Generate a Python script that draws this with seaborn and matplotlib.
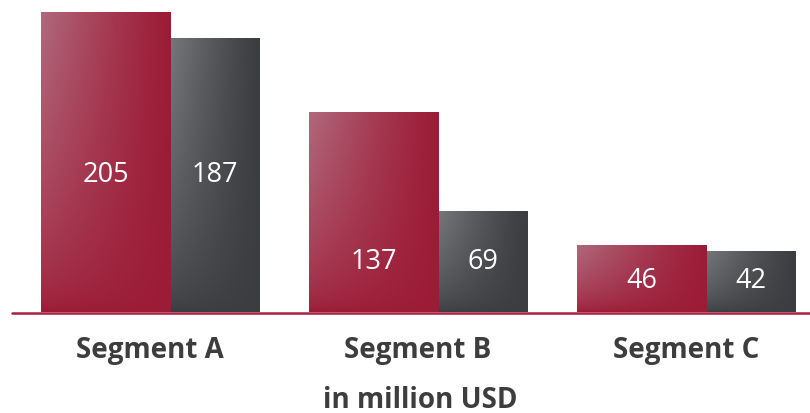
import numpy as np
import pandas as pd
import matplotlib
matplotlib.use("Agg")
import matplotlib.pyplot as plt
import seaborn as sns
from matplotlib.colors import to_rgb

# Data
segments = ["Segment A", "Segment B", "Segment C"]
current = [205, 137, 46]
previous = [187, 69, 42]
series_names = ["Current", "Previous"]
unit_label = "in million USD"

red = "#9c1c37"
red_light = "#b0687c"
grey = "#3c3d41"
grey_light = "#74767a"
text_grey = "#3d3d40"
line_red = "#a8213f"

df = pd.DataFrame({
    "segment": segments * 2,
    "value": current + previous,
    "series": [series_names[0]] * 3 + [series_names[1]] * 3,
})

sns.set_theme(style="white")
plt.rcParams["font.family"] = ["Open Sans", "DejaVu Sans"]

fig = plt.figure(figsize=(8.1, 4.13), dpi=100)
ax = fig.add_axes([12 / 810, 101 / 413, 798 / 810, 312 / 413])

sns.barplot(data=df, x="segment", y="value", hue="series",
            palette=[red, grey], width=0.813, dodge=True,
            saturation=1, legend=False, ax=ax)

# Wide red bar on the left, narrower grey bar on the right of each group
red_left, red_w = -0.407, 0.485
grey_left, grey_w = 0.078, 0.329
for i, p in enumerate(ax.containers[0].patches):
    p.set_x(i + red_left)
    p.set_width(red_w)
    p.set_linewidth(0)
for i, p in enumerate(ax.containers[1].patches):
    p.set_x(i + grey_left)
    p.set_width(grey_w)
    p.set_linewidth(0)


def gradient_fill(patch, base, light):
    x0, y0 = patch.get_x(), patch.get_y()
    w, h = patch.get_width(), patch.get_height()
    nx, ny = 64, 64
    u = np.linspace(0, 1, nx)[None, :]
    v = np.linspace(0, 1, ny)[:, None]  # 0 at top, 1 at bottom
    t = (1 - u) ** 1.2 * (1 - v) ** 0.6
    b = np.array(to_rgb(base))
    l = np.array(to_rgb(light))
    img = b[None, None, :] + t[:, :, None] * (l - b)[None, None, :]
    im = ax.imshow(img, extent=(x0, x0 + w, y0, y0 + h), origin="upper",
                   aspect="auto", interpolation="bilinear", zorder=2)
    im.set_clip_path(patch)


for p in ax.containers[0].patches:
    gradient_fill(p, red, red_light)
for p in ax.containers[1].patches:
    gradient_fill(p, grey, grey_light)

# Value labels sit at half the height of the grey bar in each group
for i in range(len(segments)):
    ymid = previous[i] / 2
    ax.text(i + red_left + red_w / 2, ymid, f"{current[i]}", color="white",
            fontsize=19.5, ha="center", va="center", zorder=5)
    ax.text(i + grey_left + grey_w / 2, ymid, f"{previous[i]}", color="white",
            fontsize=19.5, ha="center", va="center", zorder=5)

ax.set_xlim(-0.515, 2.463)
ax.set_ylim(0, 213.2)
ax.axhline(-0.6, color=line_red, lw=1.8, zorder=4, clip_on=False)

sns.despine(ax=ax, left=True, bottom=True, top=True, right=True)
ax.set_yticks([])
ax.set_xlabel("")
ax.set_ylabel("")
ax.tick_params(axis="x", length=0, pad=17)
ax.set_xticks(range(len(segments)))
ax.set_xticklabels(segments, fontsize=20, fontweight="bold", color=text_grey)
ax.set_facecolor("white")

fig.text(420 / 810, 1 - 400 / 413, unit_label, fontsize=20, fontweight="bold",
         color=text_grey, ha="center", va="center")

fig.savefig("out.png", dpi=100, facecolor="white")
